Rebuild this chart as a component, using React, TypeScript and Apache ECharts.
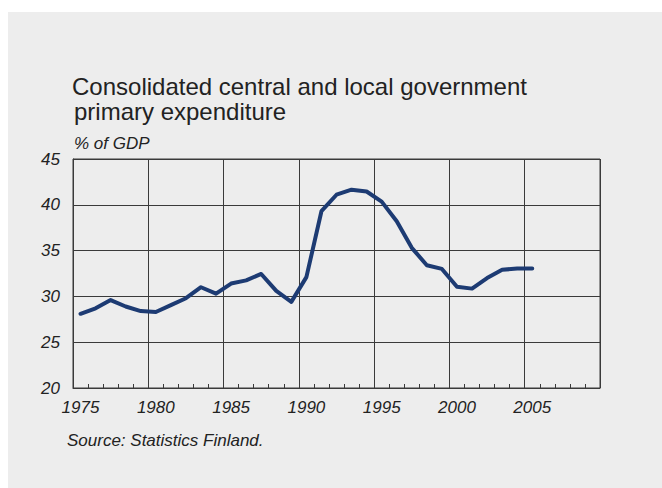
import React, { useEffect, useRef } from "react";
import * as echarts from "echarts";

const years: string[] = [
  "1975", "1976", "1977", "1978", "1979", "1980", "1981", "1982", "1983", "1984",
  "1985", "1986", "1987", "1988", "1989", "1990", "1991", "1992", "1993", "1994",
  "1995", "1996", "1997", "1998", "1999", "2000", "2001", "2002", "2003", "2004",
  "2005", "2006", "2007", "2008", "2009",
];

const expenditure: (number | null)[] = [
  28.1, 28.7, 29.6, 28.9, 28.4, 28.3, 29.05, 29.8, 31.0, 30.3,
  31.4, 31.75, 32.45, 30.6, 29.4, 32.1, 39.3, 41.1, 41.65, 41.45,
  40.35, 38.2, 35.3, 33.4, 33.0, 31.05, 30.85, 32.0, 32.9, 33.05,
  33.05, null, null, null, null,
];

const titleLines: string[] = [
  "Consolidated central and local government",
  "primary expenditure",
];
const unitLabel = "% of GDP";
const sourceLabel = "Source: Statistics Finland.";

const FONT = "Liberation Sans, Arial, Helvetica, sans-serif";

export default function App() {
  const ref = useRef<HTMLDivElement>(null);

  useEffect(() => {
    if (!ref.current) return;
    const chart = echarts.init(ref.current, undefined, { renderer: "svg" });
    chart.setOption({
      animation: false,
      backgroundColor: "#ffffff",
      grid: {
        left: 73,
        right: 62,
        top: 159,
        bottom: 100,
        show: true,
        borderColor: "#3a3a3a",
        borderWidth: 1,
        backgroundColor: "transparent",
        z: 3,
      },
      graphic: [
        {
          type: "rect",
          z: -10,
          silent: true,
          shape: { x: 8, y: 12, width: 654, height: 476 },
          style: { fill: "#ededed" },
        },
        {
          type: "text",
          x: 72,
          y: 86.7,
          style: {
            text: titleLines[0],
            font: `24px ${FONT}`,
            fill: "#222222",
            verticalAlign: "middle",
          },
        },
        {
          type: "text",
          x: 74,
          y: 111.4,
          style: {
            text: titleLines[1],
            font: `24px ${FONT}`,
            fill: "#222222",
            verticalAlign: "middle",
          },
        },
        {
          type: "text",
          x: 74,
          y: 143.9,
          style: {
            text: unitLabel,
            font: `italic 17px ${FONT}`,
            fill: "#222222",
            verticalAlign: "middle",
          },
        },
        {
          type: "text",
          x: 67,
          y: 440.6,
          style: {
            text: sourceLabel,
            font: `italic 17px ${FONT}`,
            fill: "#222222",
            verticalAlign: "middle",
          },
        },
      ],
      xAxis: {
        type: "category",
        data: years,
        boundaryGap: true,
        axisLine: { show: true, lineStyle: { color: "#3a3a3a", width: 1 } },
        axisTick: {
          show: true,
          inside: true,
          length: 4,
          interval: 0,
          lineStyle: { color: "#3a3a3a", width: 1 },
        },
        axisLabel: {
          interval: 4,
          margin: 11,
          fontFamily: FONT,
          fontSize: 17,
          fontStyle: "italic",
          color: "#222222",
        },
        splitLine: {
          show: true,
          interval: 4,
          lineStyle: { color: "#3a3a3a", width: 1 },
        },
      },
      yAxis: {
        type: "value",
        min: 20,
        max: 45,
        interval: 5,
        axisLine: { show: true, lineStyle: { color: "#3a3a3a", width: 1 } },
        axisTick: { show: false },
        axisLabel: {
          margin: 13,
          fontFamily: FONT,
          fontSize: 17,
          fontStyle: "italic",
          color: "#222222",
        },
        splitLine: { show: true, lineStyle: { color: "#3a3a3a", width: 1 } },
      },
      series: [
        {
          type: "line",
          data: expenditure,
          showSymbol: false,
          symbol: "none",
          connectNulls: false,
          z: 5,
          lineStyle: { color: "#1d3b73", width: 4, join: "round", cap: "round" },
        },
      ],
    });
    return () => chart.dispose();
  }, []);

  return (
    <div
      ref={ref}
      style={{ position: "absolute", left: 0, top: 0, width: 662, height: 488 }}
    />
  );
}
